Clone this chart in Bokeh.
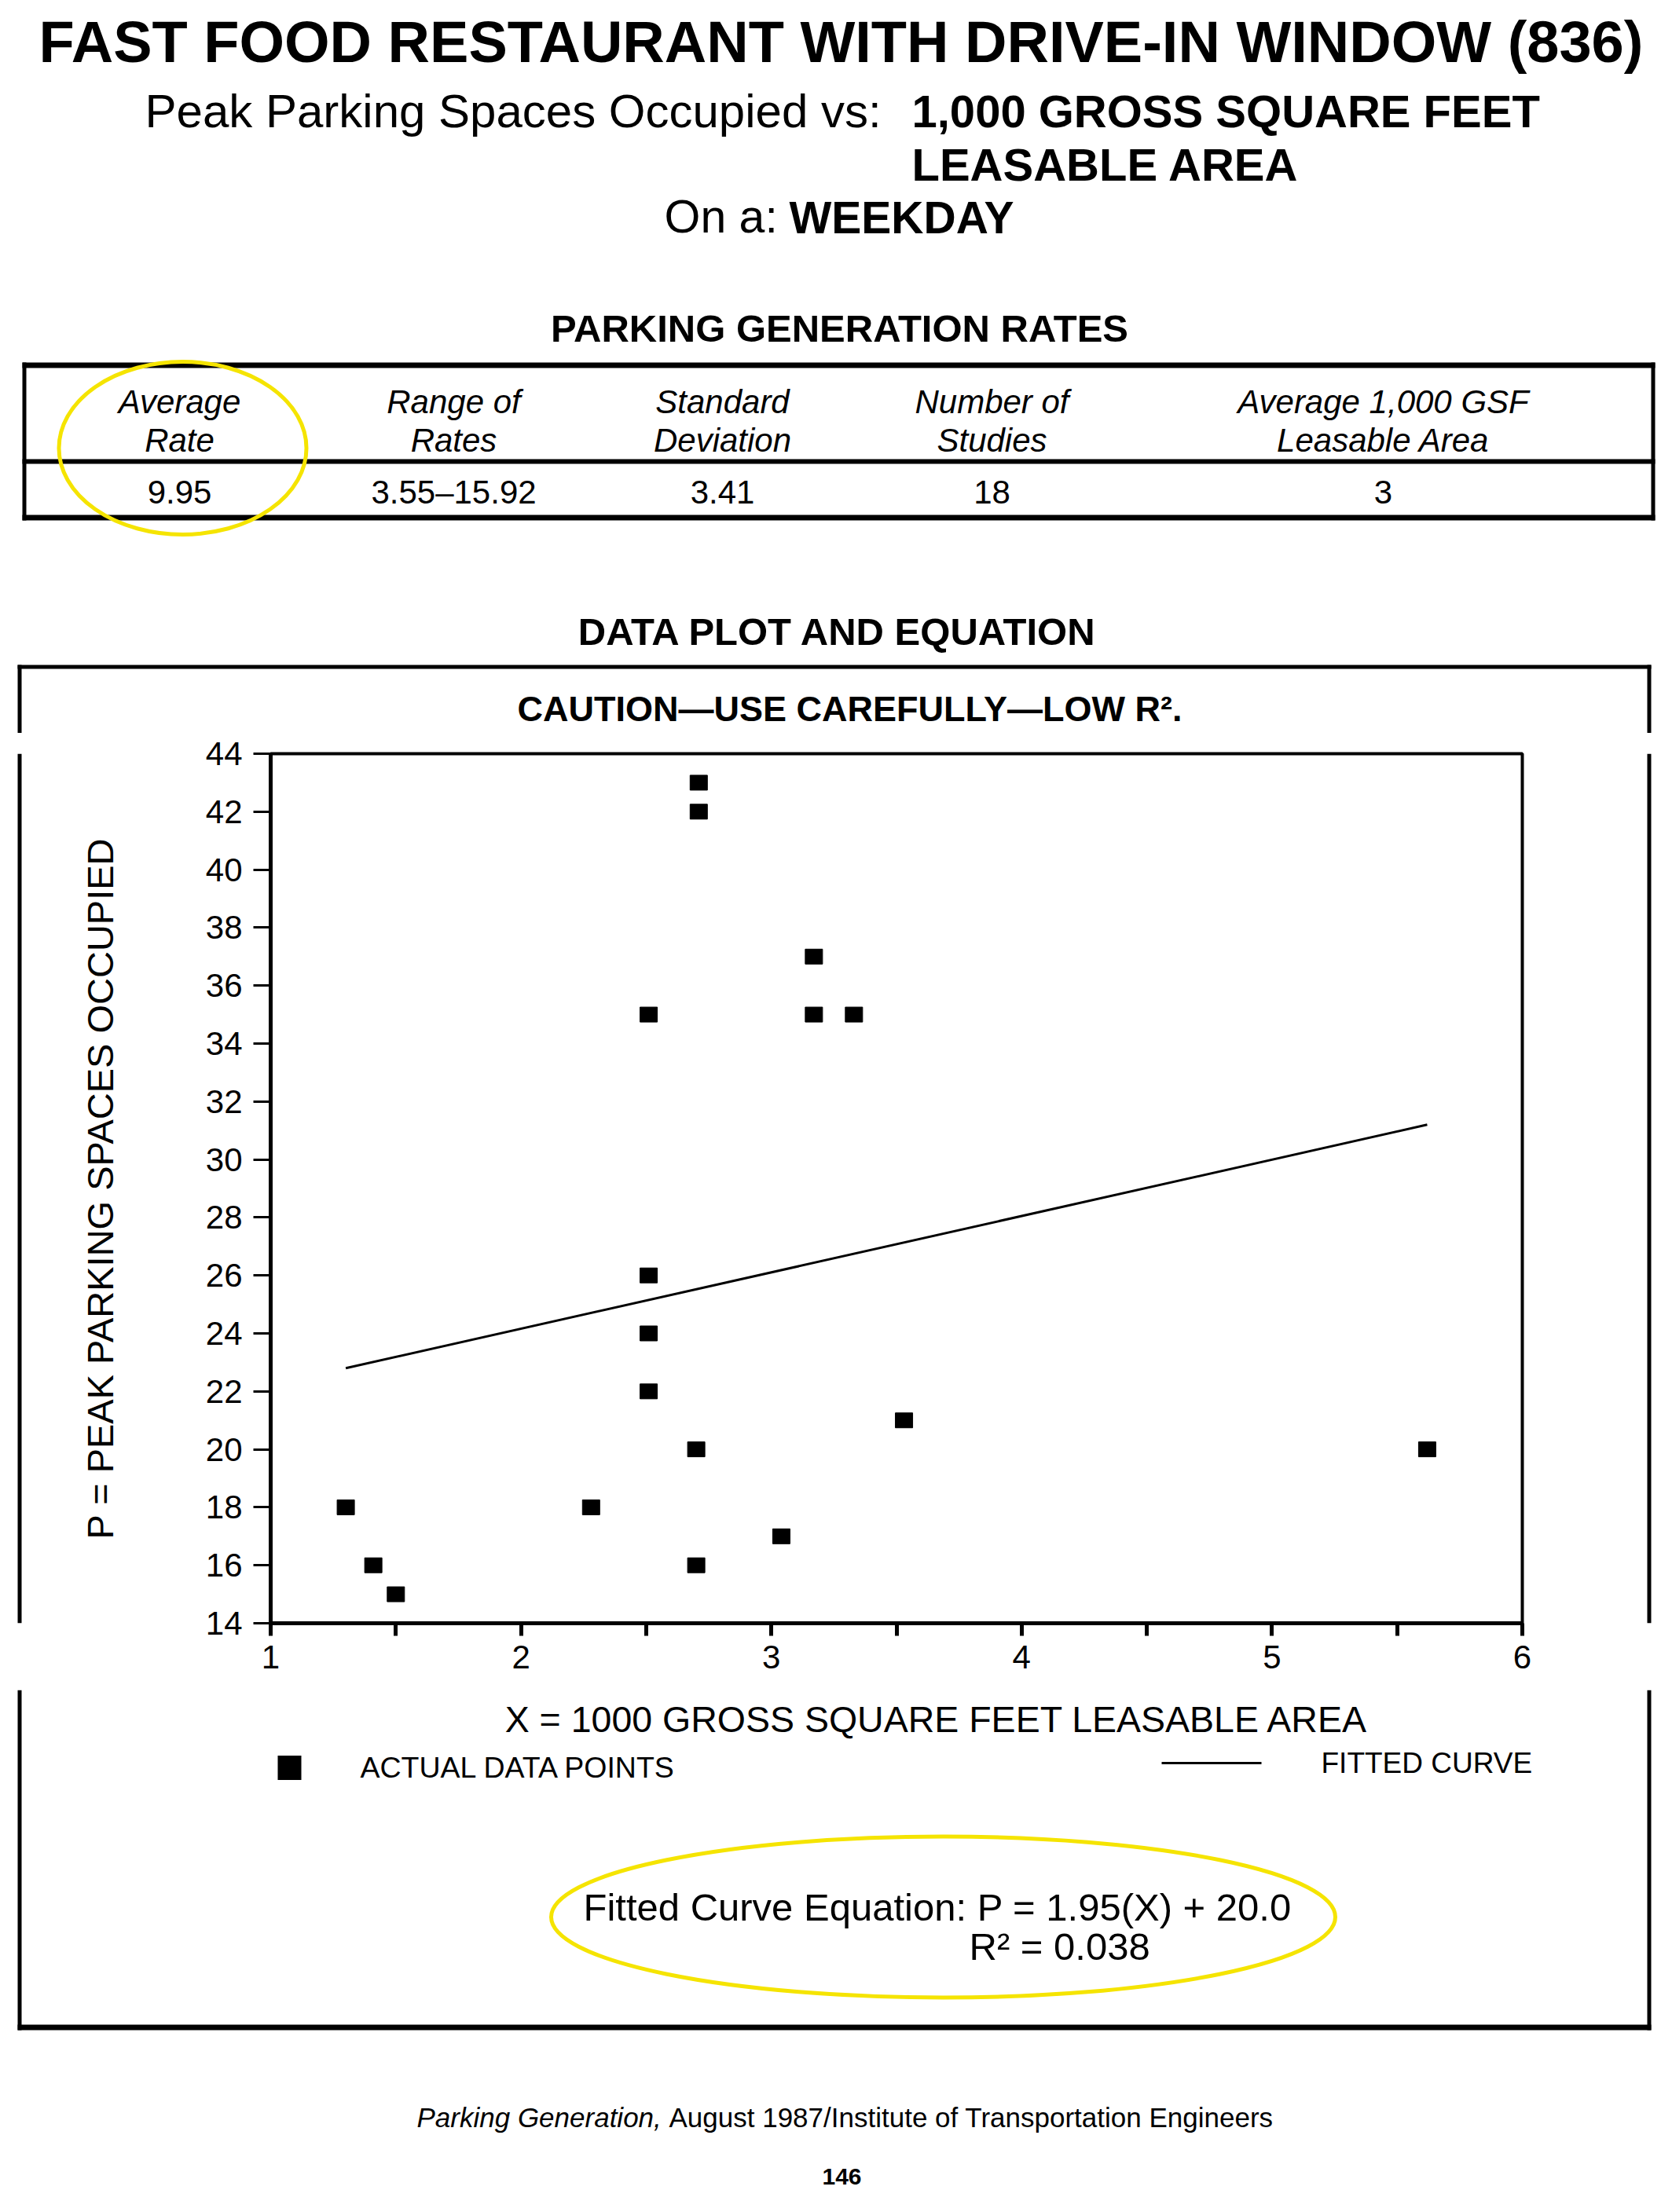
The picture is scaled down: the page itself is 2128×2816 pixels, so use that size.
import numpy as np
from bokeh.plotting import figure
from bokeh.layouts import column, row
from bokeh.models import Range1d, FixedTicker
from bokeh.core.properties import value
from bokeh.embed import file_html
from bokeh.resources import INLINE

# ---------------- data ----------------
size_ksf = [1.30, 1.41, 1.50, 2.28, 2.51, 2.51, 2.51, 2.51, 2.71, 2.71,
            2.70, 2.70, 3.04, 3.17, 3.17, 3.33, 3.53, 5.62]
peak_spaces = [18, 16, 15, 18, 35, 26, 24, 22, 43, 42,
               20, 16, 17, 37, 35, 35, 21, 20]
fit_x = [1.30, 5.62]
fit_y = [22.8, 31.2]
x_ticks = [1, 2, 3, 4, 5, 6]
x_minor_ticks = [1.5, 2.5, 3.5, 4.5, 5.5]
y_ticks = [14, 16, 18, 20, 22, 24, 26, 28, 30, 32, 34, 36, 38, 40, 42, 44]
table_head_1 = ["Average", "Range of", "Standard", "Number of", "Average 1,000 GSF"]
table_head_2 = ["Rate", "Rates", "Deviation", "Studies", "Leasable Area"]
table_values = ["9.95", "3.55\u201315.92", "3.41", "18", "3"]

FONT = "Liberation Sans"
YELLOW = "#f5e400"
K = 0.39   # baseline correction for text glyphs (fraction of font size)

# ---------------- page geometry (page pixel coordinates) ----------------
PX0, PX1, PY0, PY1 = 0, 2128, 0, 2816
FL, FR, FT, FB = 344, 1937, 959, 2066          # scatter frame on the page
SX0, SX1 = 40, 2080                            # scatter figure columns
SY0, SY1 = 933, 2151                           # scatter figure rows
BOX_L, BOX_R, LW = 22, 2096, 5                 # chart box side rules


def deco(x0, x1, y0, y1):
    f = figure(width=x1 - x0, height=y1 - y0,
               x_range=Range1d(x0, x1), y_range=Range1d(y1, y0),
               output_backend="svg", toolbar_location=None, min_border=0,
               x_axis_type=None, y_axis_type=None)
    f.outline_line_color = None
    f.background_fill_color = "white"
    f.border_fill_color = "white"
    return f


def txt(f, text, X, Y, size, style="normal", align="left"):
    f.text(x=[X], y=[Y - K * size], text=[text], text_font=value(FONT),
           text_font_size=value(f"{size}px"), text_font_style=style,
           text_align=align, text_baseline="alphabetic", text_color="black")


def bar(f, x0, x1, y0, y1):
    f.quad(left=[x0], right=[x1], top=[y0], bottom=[y1],
           fill_color="black", line_color=None)


def oval(f, cx, cy, w, h):
    f.ellipse(x=[cx], y=[cy], width=[w], height=[h], fill_color=None,
              line_color=YELLOW, line_width=5)


# ---------------- header ----------------
hd = deco(PX0, PX1, PY0, SY0)
txt(hd, "FAST FOOD RESTAURANT WITH DRIVE-IN WINDOW (836)", 1070, 82, 74, "bold", "center")
txt(hd, "Peak Parking Spaces Occupied vs:", 184, 164, 60)
txt(hd, "1,000 GROSS SQUARE FEET", 1160, 164, 58, "bold")
txt(hd, "LEASABLE AREA", 1160, 232, 58, "bold")
txt(hd, "On a:", 845, 299, 59)
txt(hd, "WEEKDAY", 1004, 299, 57, "bold")
txt(hd, "PARKING GENERATION RATES", 1068, 437, 49, "bold", "center")

col_x = [228, 577, 919, 1262, 1760]
for cx, h1, h2, v in zip(col_x, table_head_1, table_head_2, table_values):
    txt(hd, h1, cx, 527, 42, "italic", "center")
    txt(hd, h2, cx, 576, 42, "italic", "center")
    txt(hd, v, cx, 642, 42, "normal", "center")

bar(hd, 28, 2106, 461, 468)
bar(hd, 28, 2106, 584, 590)
bar(hd, 28, 2106, 655, 662)
bar(hd, 28, 33, 461, 662)
bar(hd, 2101, 2106, 461, 662)
oval(hd, 232, 570, 315, 220)

txt(hd, "DATA PLOT AND EQUATION", 1066, 823, 49, "bold", "center")
bar(hd, BOX_L, BOX_R + LW, 846, 851)
bar(hd, BOX_L, BOX_L + LW, 846, SY0)
bar(hd, BOX_R, BOX_R + LW, 846, SY0)
txt(hd, "CAUTION\u2014USE CAREFULLY\u2014LOW R\u00b2.", 1081, 920, 45, "bold", "center")

# ---------------- side strips of the chart box ----------------
ls = deco(PX0, SX0, SY0, SY1)
bar(ls, BOX_L, BOX_L + LW, SY0, SY1)
rs = deco(SX1, PX1, SY0, SY1)
bar(rs, BOX_R, BOX_R + LW, SY0, SY1)

# ---------------- scatter plot ----------------
p = figure(width=SX1 - SX0, height=SY1 - SY0,
           x_range=Range1d(1, 6), y_range=Range1d(14, 44),
           output_backend="svg", toolbar_location=None,
           min_border_left=FL - SX0, min_border_right=SX1 - FR,
           min_border_top=FT - SY0, min_border_bottom=SY1 - FB)
p.background_fill_color = "white"
p.border_fill_color = "white"
p.grid.visible = False
p.outline_line_color = "black"
p.outline_line_width = 4

p.rect(x=size_ksf, y=peak_spaces, width=22, height=19,
       width_units="screen", height_units="screen",
       fill_color="black", line_color="black")
p.line(fit_x, fit_y, line_width=3, line_color="black")

xa = p.xaxis[0]
xa.ticker = FixedTicker(ticks=x_ticks, minor_ticks=x_minor_ticks)
xa.axis_line_width = 5
xa.major_tick_in = 0
xa.major_tick_out = 16
xa.minor_tick_in = 0
xa.minor_tick_out = 16
xa.major_tick_line_width = 5
xa.minor_tick_line_width = 5
xa.major_label_text_font = FONT
xa.major_label_text_font_size = "42px"
xa.major_label_text_color = "black"
xa.major_label_standoff = 12

ya = p.yaxis[0]
ya.ticker = FixedTicker(ticks=y_ticks, minor_ticks=[])
ya.axis_line_width = 5
ya.major_tick_in = 0
ya.major_tick_out = 22
ya.major_tick_line_width = 3
ya.minor_tick_out = 0
ya.minor_tick_in = 0
ya.major_label_text_font = FONT
ya.major_label_text_font_size = "42px"
ya.major_label_text_color = "black"
ya.major_label_standoff = 14
ya.axis_label = "P = PEAK PARKING SPACES OCCUPIED"
ya.axis_label_text_font = FONT
ya.axis_label_text_font_size = "47px"
ya.axis_label_text_font_style = "normal"
ya.axis_label_text_color = "black"
ya.axis_label_standoff = 105

middle = row(ls, p, rs, spacing=0)

# ---------------- footer (x title, legend, equation, credits) ----------------
ft = deco(PX0, PX1, SY1, PY1)
bar(ft, BOX_L, BOX_L + LW, SY1, 2584)
bar(ft, BOX_R, BOX_R + LW, SY1, 2584)
bar(ft, BOX_L, BOX_R + LW, 2577, 2584)
txt(ft, "X = 1000 GROSS SQUARE FEET LEASABLE AREA", 1192, 2207, 46.5, "normal", "center")

# legend
ft.rect(x=[368], y=[2250], width=[30], height=[31], fill_color="black", line_color=None)
txt(ft, "ACTUAL DATA POINTS", 458, 2264, 37.5)
ft.segment(x0=[1478], y0=[2244], x1=[1605], y1=[2244], line_color="black", line_width=3)
txt(ft, "FITTED CURVE", 1681, 2258, 37)

txt(ft, "Fitted Curve Equation: P = 1.95(X) + 20.0", 742, 2447, 49)
txt(ft, "R\u00b2 = 0.038", 1233, 2497, 49)
oval(ft, 1200, 2440, 998, 205)

txt(ft, "Parking Generation,", 530, 2709, 35, "italic")
txt(ft, "August 1987/Institute of Transportation Engineers", 851, 2709, 35)
txt(ft, "146", 1071, 2782, 30, "bold", "center")

layout = column(hd, middle, ft, spacing=0)
open("out.html", "w").write(file_html(layout, INLINE))
